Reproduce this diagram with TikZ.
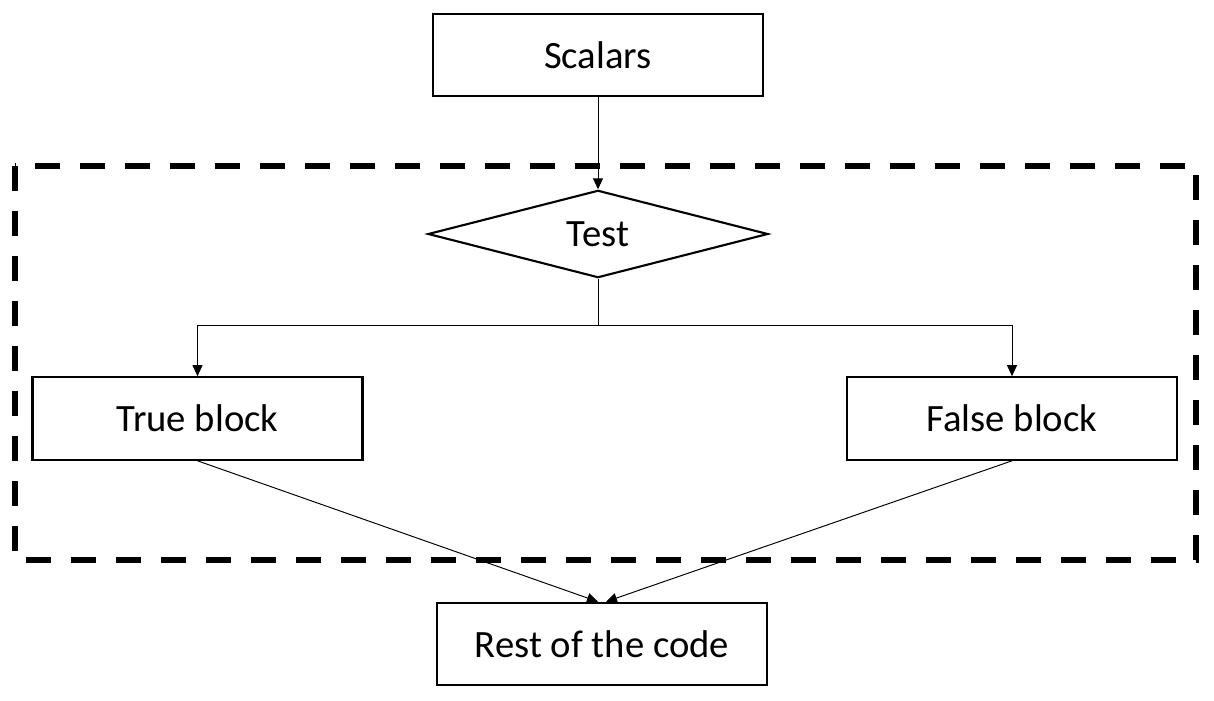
\documentclass[tikz,border=0pt]{standalone}
\usepackage{fontspec}
\setmainfont{Carlito}
\usetikzlibrary{shapes.geometric, arrows.meta}

\begin{document}
\begin{tikzpicture}[font=\fontsize{22}{26}\selectfont,
  block/.style={rectangle, draw, line width=1.2pt, minimum width=6.6cm, minimum height=1.65cm},
  test/.style={diamond, draw, line width=1.2pt, inner sep=0pt, minimum width=6.8cm, minimum height=1.66cm},
  link/.style={line width=0.55pt, -{Triangle[length=0.22cm, width=0.2cm]}},
  frame/.style={line width=3.3pt, dash pattern=on 0.5cm off 0.4cm}]
  \useasboundingbox (0,0) rectangle (24.28,-14);

  % Define blocks
  \node[block] (scalars) at (11.96,-1.1) {Scalars};
  \node[test] (test) at (11.96,-4.68) {Test};
  \node[block] (trueb) at (3.95,-8.37) {True block};
  \node[block] (falseb) at (20.24,-8.37) {False block};
  \node[block] (rest) at (12.04,-12.88) {Rest of the code};
  \coordinate (split) at (11.96,-6.5);

  % Dashed frame
  \draw[frame] (0.3,-3.32) rectangle (23.92,-11.2);

  % Draw connectors
  \draw[link] (scalars) -- (test);
  \draw[line width=0.55pt] (test.south) -- (split);
  \draw[link] (split) -| (trueb.north);
  \draw[link] (split) -| (falseb.north);
  \draw[link] (trueb.south) -- ([xshift=-0.08cm]rest.north);
  \draw[link] (falseb.south) -- ([xshift=0.08cm]rest.north);

\end{tikzpicture}
\end{document}
